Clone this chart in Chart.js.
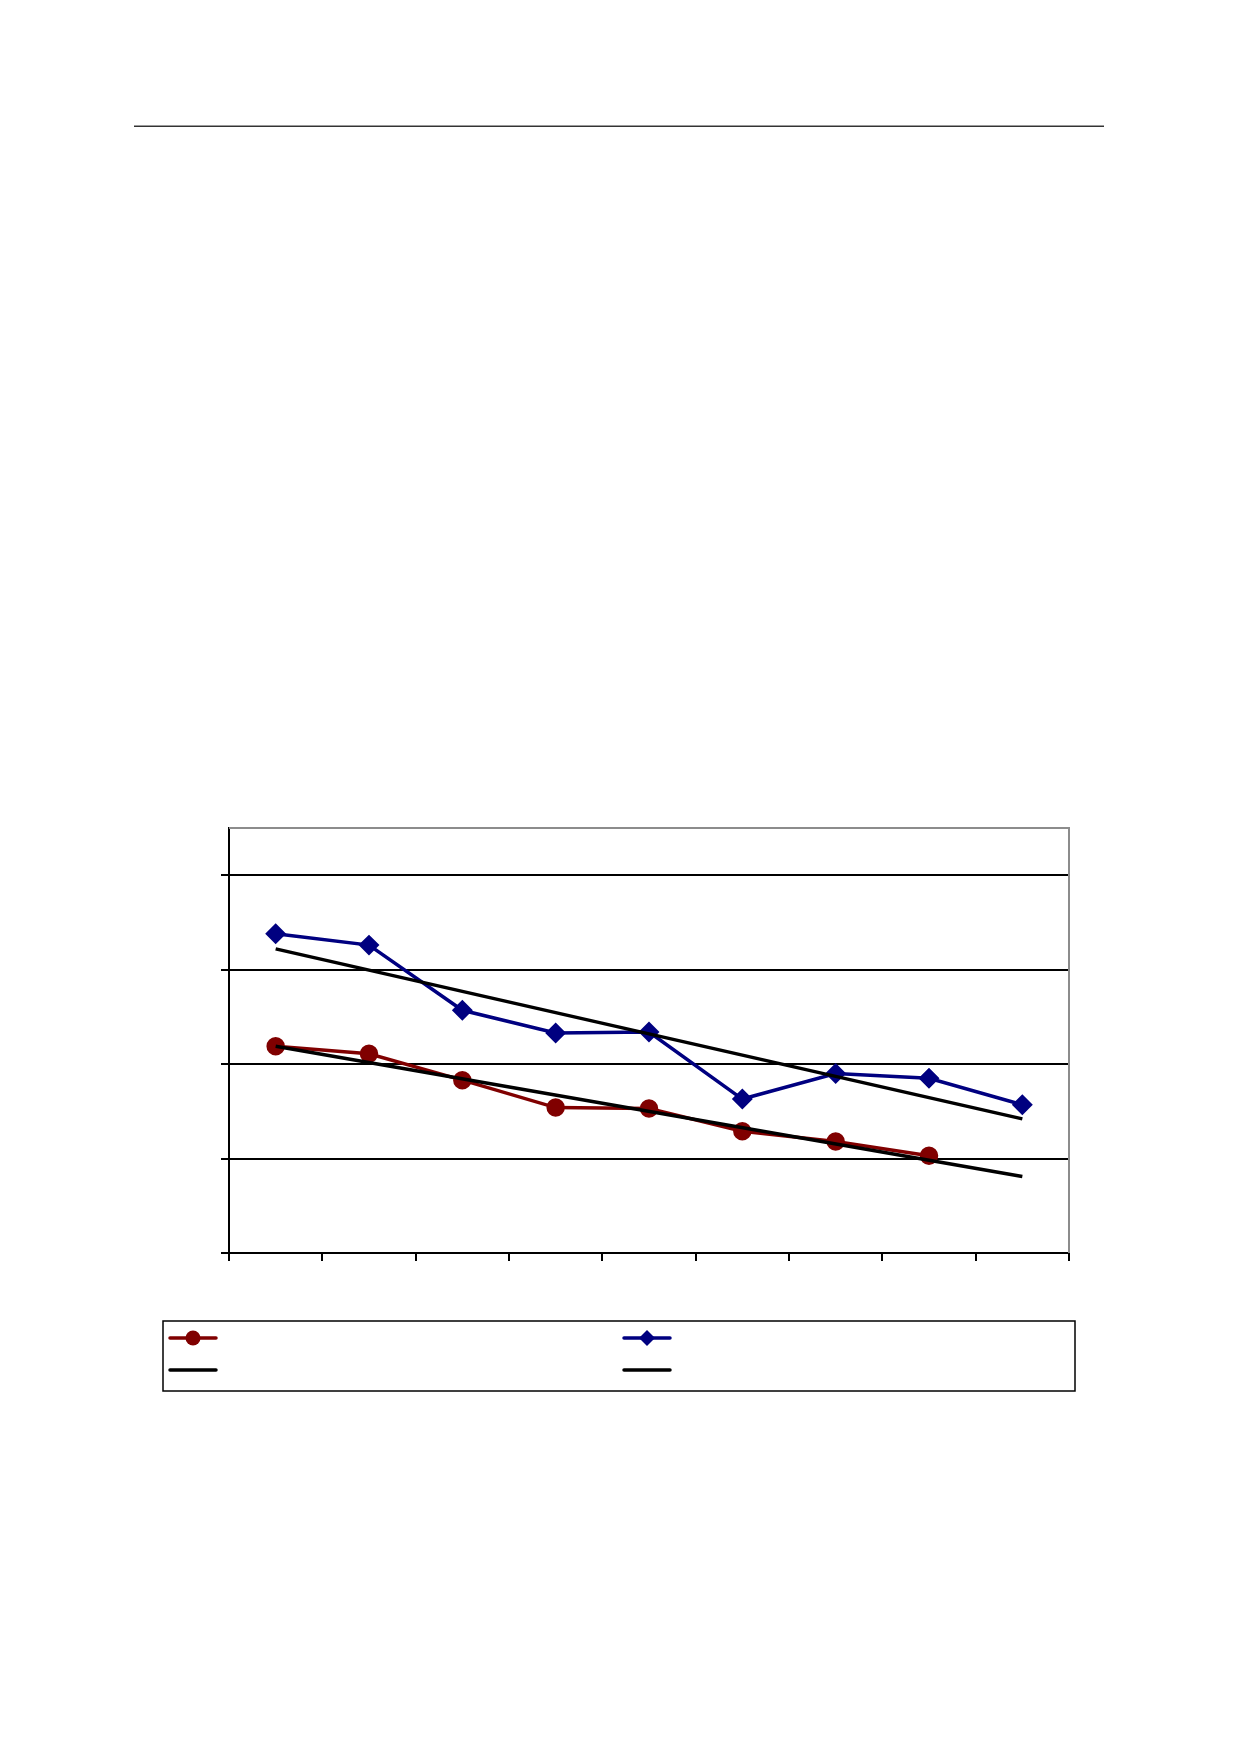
<!DOCTYPE html>
<html>
<head>
<meta charset="utf-8">
<script src="https://cdn.jsdelivr.net/npm/chart.js@4"></script>
<style>
  html, body { margin: 0; padding: 0; background: #fff; }
  #rule { position: absolute; left: 134px; top: 125px; width: 970px; height: 0;
          border-top: 1px solid #9a9a9a; border-bottom: 1px solid #333; }
  #wrap { position: absolute; left: 0; top: 0; width: 1239px; height: 1754px; }
</style>
</head>
<body>
<div id="rule"></div>
<div id="wrap"><canvas id="chart" width="1239" height="1754"></canvas></div>
<script>
// categories (no labels are printed in the picture)
const categories = ['1', '2', '3', '4', '5', '6', '7', '8', '9'];
const redSeries = [2.19, 2.11, 1.83, 1.54, 1.53, 1.29, 1.18, 1.03, null];
const blueSeries = [3.38, 3.26, 2.57, 2.33, 2.34, 1.63, 1.90, 1.85, 1.57];
// trend lines: only the two end points
const redTrend = [2.19, null, null, null, null, null, null, null, 0.81];
const blueTrend = [3.22, null, null, null, null, null, null, null, 1.42];
const yTicks = [0, 1, 2, 3, 4];
const yMax = 4.5;

const RED = '#800000';
const BLUE = '#000080';

const frame = {
    id: 'frame',
    afterDraw(chart) {
        const ctx = chart.ctx;
        const a = chart.chartArea;
        ctx.save();
        ctx.strokeStyle = '#8c8c8c';
        ctx.lineWidth = 2;
        ctx.beginPath();
        ctx.moveTo(a.left, a.top);
        ctx.lineTo(a.right, a.top);
        ctx.lineTo(a.right, a.bottom);
        ctx.stroke();
        ctx.restore();
        drawLegend(chart);
    }
};

function marker(ctx, style, x, y, r, color) {
    ctx.fillStyle = color;
    ctx.beginPath();
    if (style === 'circle') {
        ctx.arc(x, y, r, 0, Math.PI * 2);
    } else {
        ctx.moveTo(x, y - r);
        ctx.lineTo(x + r, y);
        ctx.lineTo(x, y + r);
        ctx.lineTo(x - r, y);
        ctx.closePath();
    }
    ctx.fill();
}

function drawLegend(chart) {
    const ctx = chart.ctx;
    ctx.save();
    ctx.strokeStyle = '#000';
    ctx.lineWidth = 1.5;
    ctx.strokeRect(163, 1321, 912, 70);
    const items = [
        { ds: 0, x: 170, y: 1338 },
        { ds: 1, x: 624, y: 1338 },
        { ds: 2, x: 170, y: 1370 },
        { ds: 3, x: 624, y: 1370 }
    ];
    items.forEach(it => {
        const d = chart.data.datasets[it.ds];
        ctx.strokeStyle = d.borderColor;
        ctx.lineWidth = 3.5;
        ctx.lineCap = 'round';
        ctx.beginPath();
        ctx.moveTo(it.x, it.y);
        ctx.lineTo(it.x + 46, it.y);
        ctx.stroke();
        if (d.pointRadius > 0) {
            marker(ctx, d.pointStyle, it.x + 23, it.y, d.pointStyle === 'circle' ? 7.5 : 8, d.pointBackgroundColor);
        }
    });
    ctx.restore();
}

const ctx = document.getElementById('chart').getContext('2d');
new Chart(ctx, {
    type: 'line',
    data: {
        labels: categories,
        datasets: [
            {
                data: redSeries,
                borderColor: RED,
                backgroundColor: RED,
                pointBackgroundColor: RED,
                pointBorderColor: RED,
                pointStyle: 'circle',
                pointRadius: 7.5,
                borderWidth: 3.5,
                tension: 0,
                order: 2
            },
            {
                data: blueSeries,
                borderColor: BLUE,
                backgroundColor: BLUE,
                pointBackgroundColor: BLUE,
                pointBorderColor: BLUE,
                pointStyle: 'rectRot',
                pointRadius: 8,
                borderWidth: 3.5,
                tension: 0,
                order: 2
            },
            {
                data: redTrend,
                borderColor: '#000',
                pointRadius: 0,
                borderWidth: 3.5,
                spanGaps: true,
                order: 1
            },
            {
                data: blueTrend,
                borderColor: '#000',
                pointRadius: 0,
                borderWidth: 3.5,
                spanGaps: true,
                order: 1
            }
        ]
    },
    options: {
        responsive: false,
        animation: false,
        devicePixelRatio: 1,
        layout: { padding: { left: 221, top: 828, right: 170, bottom: 493 } },
        plugins: { legend: { display: false }, tooltip: { enabled: false }, title: { display: false } },
        scales: {
            x: {
                offset: true,
                ticks: { display: false },
                grid: { drawOnChartArea: false, drawTicks: true, tickLength: 8, color: '#000', lineWidth: 2, offset: true },
                border: { display: true, color: '#000', width: 2 },
                afterFit: s => { s.height = 8; }
            },
            y: {
                min: 0,
                max: yMax,
                afterBuildTicks: s => { s.ticks = yTicks.map(v => ({ value: v })); },
                ticks: { display: false },
                grid: { drawOnChartArea: true, drawTicks: true, tickLength: 8, color: '#000', lineWidth: 2 },
                border: { display: true, color: '#000', width: 2 },
                afterFit: s => { s.width = 8; }
            }
        }
    },
    plugins: [frame]
});
</script>
</body>
</html>
